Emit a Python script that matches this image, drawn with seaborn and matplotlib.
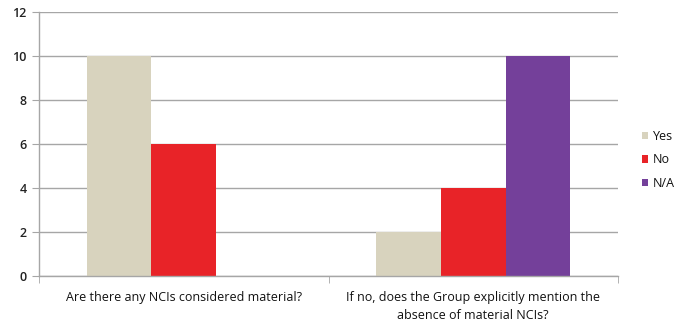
import matplotlib
matplotlib.use("Agg")
import matplotlib.pyplot as plt
import seaborn as sns
import pandas as pd

questions = ["Are there any NCIs considered material?",
             "If no, does the Group explicitly mention the\nabsence of material NCIs?"]
answers = ["Yes", "No", "N/A"]
yes_counts = [10, 2]
no_counts = [6, 4]
na_counts = [0, 10]
palette = {"Yes": "#D8D3BE", "No": "#E82328", "N/A": "#74409A"}
y_ticks = [0, 2, 4, 6, 8, 10, 12]

rows = []
for i, q in enumerate(questions):
    for a, vals in zip(answers, [yes_counts, no_counts, na_counts]):
        rows.append({"question": q, "answer": a, "count": vals[i]})
df = pd.DataFrame(rows)

sns.set_style("white")
plt.rcParams["font.family"] = ["Open Sans", "DejaVu Sans"]

fig = plt.figure(figsize=(6.81, 3.27), dpi=100)
ax = fig.add_axes([39 / 681, 51 / 327, 579 / 681, 264 / 327])

sns.barplot(data=df, x="question", y="count", hue="answer", hue_order=answers,
            palette=palette, width=0.67, saturation=1, ax=ax, linewidth=0)

ax.set_ylim(0, 12)
ax.set_xlim(-0.5, 1.5)
ax.set_yticks(y_ticks)
ax.yaxis.grid(True, color="#A6A6A6", linewidth=1)
ax.set_axisbelow(True)
ax.set_xlabel("")
ax.set_ylabel("")

for s in ["top", "right"]:
    ax.spines[s].set_visible(False)
for s in ["left", "bottom"]:
    ax.spines[s].set_color("#A6A6A6")
    ax.spines[s].set_linewidth(1)

ax.tick_params(axis="y", length=5, color="#A6A6A6", labelsize=9,
               labelcolor="#222222", pad=4, left=True)
ax.tick_params(axis="x", length=0, labelsize=9, labelcolor="#111111", pad=11)
ax.set_xticks([-0.5, 0.5, 1.5], minor=True)
ax.tick_params(axis="x", which="minor", length=5, color="#A6A6A6", bottom=True)
for lbl in ax.get_xticklabels():
    lbl.set_horizontalalignment("center")
    lbl.set_multialignment("center")
    lbl.set_linespacing(1.45)
for lbl in ax.get_yticklabels():
    lbl.set_fontweight("semibold")

leg = ax.legend(loc="center left", bbox_to_anchor=(1.03, 0.44), frameon=False,
                fontsize=9, handlelength=0.55, handleheight=0.55,
                handletextpad=0.35, labelspacing=0.85, borderpad=0)
for t in leg.get_texts():
    t.set_color("#111111")

fig.savefig("out.png", dpi=100)
